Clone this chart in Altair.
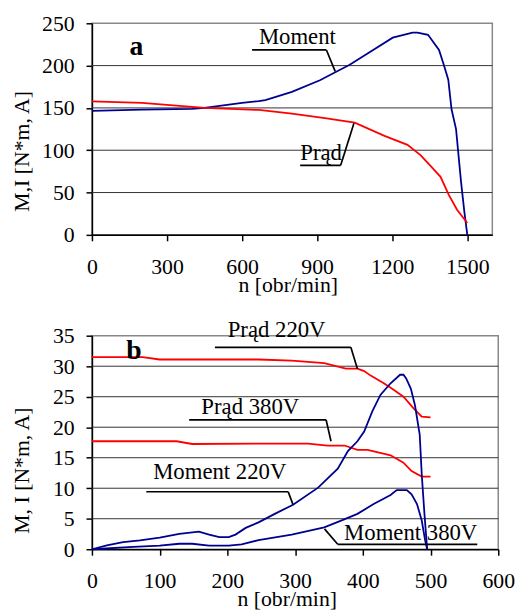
import altair as alt
import pandas as pd

FONT = "Liberation Serif, Times New Roman, Times, serif"
BLUE = "#000090"
RED = "#ff0000"

# ---------------- panel a ----------------
a_n_moment = [0, 200, 400, 450, 600, 667, 693, 799, 911, 1030, 1103, 1202, 1281, 1301,
              1343, 1387, 1406, 1424, 1437, 1455, 1475, 1488, 1500]
a_moment = [146.5, 148, 148.8, 150, 156, 158, 159.3, 169, 182.7, 201, 214.6, 233, 239, 239,
            236.4, 218.5, 201, 183.4, 148.4, 125, 62.7, 27.7, 0]
a_n_prad = [0, 200, 450, 667, 799, 931, 1050, 1169, 1261, 1314, 1353, 1393, 1426, 1459, 1500]
a_prad = [157.7, 156, 150, 147.6, 143.3, 137.9, 132.5, 117, 106.3, 94, 81.4, 68.6, 47.2, 29.7, 14]

a_xticks = [0, 300, 600, 900, 1200, 1500]
a_yticks = [0, 50, 100, 150, 200, 250]
a_grid = [50, 100, 150, 200]

a_lab_text = ["Moment", "Prąd"]
a_lab_x = [821, 916]
a_lab_y = [225.5, 88]
# leader segments: x, y -> x2, y2
a_seg_x = [640, 937, 832, 994]
a_seg_y = [218.5, 218.5, 82.2, 82.2]
a_seg_x2 = [937, 972, 994, 1047]
a_seg_y2 = [218.5, 193.2, 82.2, 132]

# ---------------- panel b ----------------
b_n_p220 = [0, 75, 100, 246, 295, 343, 375, 392, 402, 411, 431, 446, 460, 475, 487, 500]
b_p220 = [31.5, 31.5, 31.1, 31.1, 30.9, 30.5, 29.6, 29.6, 29.2, 28.5, 27.2, 26.1, 25.0, 23.1, 21.75, 21.6]
b_n_p380 = [0, 125, 148, 246, 319, 348, 373, 392, 407, 441, 460, 472, 487, 500]
b_p380 = [17.7, 17.7, 17.25, 17.3, 17.3, 17.0, 17.0, 16.3, 16.3, 15.4, 14.2, 12.8, 11.9, 11.9]
b_n_m220 = [0, 22, 46, 71, 100, 129, 158, 173, 188, 202, 212, 227, 246, 270, 297, 334, 363,
            378, 392, 402, 414, 426, 441, 455, 460, 464, 471, 477, 484, 487, 491, 495]
b_m220 = [0, 0.65, 1.18, 1.45, 1.9, 2.5, 2.9, 2.4, 2.0, 2.0, 2.4, 3.5, 4.4, 5.8, 7.3, 10.1, 13.2,
          16.1, 17.7, 19.3, 22.6, 25.3, 27.2, 28.6, 28.6, 28.0, 26.3, 23.6, 18.8, 12.3, 5.8, 0]
b_n_m380 = [0, 61, 100, 129, 148, 173, 202, 221, 246, 295, 343, 368, 392, 416, 441, 450, 465,
            472, 480, 487, 492, 495]
b_m380 = [0, 0.37, 0.6, 0.9, 0.9, 0.6, 0.6, 0.8, 1.5, 2.4, 3.6, 4.7, 5.8, 7.4, 8.9, 9.7, 9.7,
          9.0, 7.4, 4.7, 1.45, 0]

b_xticks = [0, 100, 200, 300, 400, 500, 600]
b_yticks = [0, 5, 10, 15, 20, 25, 30, 35]
b_grid = [5, 10, 15, 20, 25, 30]

b_lab_text = ["Prąd 220V", "Prąd 380V", "Moment 220V", "Moment 380V"]
b_lab_x = [272.7, 233.8, 188.7, 470.7]
b_lab_y = [34.74, 22.1, 11.46, 1.46]
b_seg_x = [181.6, 382.3, 143.6, 345.8, 80.3, 289.8, 343.4, 362.9]
b_seg_y = [33.1, 33.1, 21.2, 21.2, 9.42, 9.42, 3.34, 0.81]
b_seg_x2 = [382.3, 392, 345.8, 353, 289.8, 297, 362.9, 569]
b_seg_y2 = [33.1, 29.6, 21.2, 17.7, 9.42, 7.3, 0.81, 0.81]


def series_df(pairs):
    rows = []
    for name, col, xs, ys in pairs:
        for x, y in zip(xs, ys):
            rows.append({"series": name, "col": col, "n": x, "v": y})
    return pd.DataFrame(rows)


def panel(lines, xdom, xticks, ydom, yticks, grid, lab_text, lab_x, lab_y,
          sx, sy, sx2, sy2, letter, letter_x, letter_y, w, h, ytitle, xtitle_x, ytitle_y):
    xs = alt.Scale(domain=xdom, nice=False, zero=False)
    ys = alt.Scale(domain=ydom, nice=False)
    xaxis = alt.Axis(values=xticks, title="n [obr/min]", grid=False, tickSize=6, format="d",
                     labelPadding=33, labelBaseline="alphabetic", labelFlush=False,
                     labelOverlap=False, titleX=xtitle_x, titleY=57,
                     titleBaseline="alphabetic")
    yaxis = alt.Axis(values=yticks, title=ytitle, grid=False, tickSize=6, format="d",
                     labelPadding=12, labelOverlap=False, titleX=-64, titleY=ytitle_y,
                     titleAngle=-90, titleBaseline="alphabetic")

    g = alt.Chart(pd.DataFrame({"g": grid})).mark_rule(color="#333", strokeWidth=1).encode(
        y=alt.Y("g:Q", scale=ys, axis=yaxis))

    ln = alt.Chart(lines).mark_line(strokeWidth=1.8).encode(
        x=alt.X("n:Q", scale=xs, axis=xaxis),
        y=alt.Y("v:Q", scale=ys, axis=yaxis),
        color=alt.Color("col:N", scale=None),
        detail="series:N",
    )

    segdf = pd.DataFrame({"x": sx, "y": sy, "x2": sx2, "y2": sy2})
    seg = alt.Chart(segdf).mark_rule(color="black", strokeWidth=1.7).encode(
        x=alt.X("x:Q", scale=xs, axis=xaxis), x2="x2:Q",
        y=alt.Y("y:Q", scale=ys, axis=yaxis), y2="y2:Q")

    labdf = pd.DataFrame({"t": lab_text, "x": lab_x, "y": lab_y})
    lab = alt.Chart(labdf).mark_text(font=FONT, fontSize=23, align="center",
                                     baseline="alphabetic", color="black").encode(
        x=alt.X("x:Q", scale=xs, axis=xaxis), y=alt.Y("y:Q", scale=ys, axis=yaxis), text="t:N")

    letdf = pd.DataFrame({"t": [letter], "x": [letter_x], "y": [letter_y]})
    let = alt.Chart(letdf).mark_text(font=FONT, fontSize=28, fontWeight="bold", align="center",
                                     baseline="alphabetic", color="black").encode(
        x=alt.X("x:Q", scale=xs, axis=xaxis), y=alt.Y("y:Q", scale=ys, axis=yaxis), text="t:N")

    return alt.layer(g, ln, seg, lab, let).properties(width=w, height=h)


a_lines = series_df([("Moment", BLUE, a_n_moment, a_moment), ("Prąd", RED, a_n_prad, a_prad)])
b_lines = series_df([("Prąd 220V", RED, b_n_p220, b_p220), ("Prąd 380V", RED, b_n_p380, b_p380),
                     ("Moment 220V", BLUE, b_n_m220, b_m220),
                     ("Moment 380V", BLUE, b_n_m380, b_m380)])

top = panel(a_lines, [0, 1600], a_xticks, [0, 250], a_yticks,
            a_grid, a_lab_text, a_lab_x, a_lab_y, a_seg_x, a_seg_y, a_seg_x2, a_seg_y2,
            "a", 178, 212.6, 405, 214, "M,I [N*m, A]", 198, 129)
bottom = panel(b_lines, [0, 600], b_xticks, [0, 35], b_yticks,
               b_grid, b_lab_text, b_lab_x, b_lab_y, b_seg_x, b_seg_y, b_seg_x2, b_seg_y2,
               "b", 62, 31.2, 411, 216, "M, I [N*m, A]", 197, 136)

chart = alt.vconcat(top, bottom, spacing=102, bounds="flush").properties(
    padding={"left": 10, "top": 8, "right": 5, "bottom": 5},
    background="white",
).configure_view(stroke="#888", strokeWidth=1.5).configure_axis(
    labelFont=FONT, labelFontSize=22, labelColor="black",
    titleFont=FONT, titleFontSize=22, titleFontWeight="normal", titleColor="black",
    domainColor="black", domainWidth=1.5, tickColor="black", tickWidth=1.5,
)

chart.save("out.html", embed_options={"renderer": "svg", "actions": False})
